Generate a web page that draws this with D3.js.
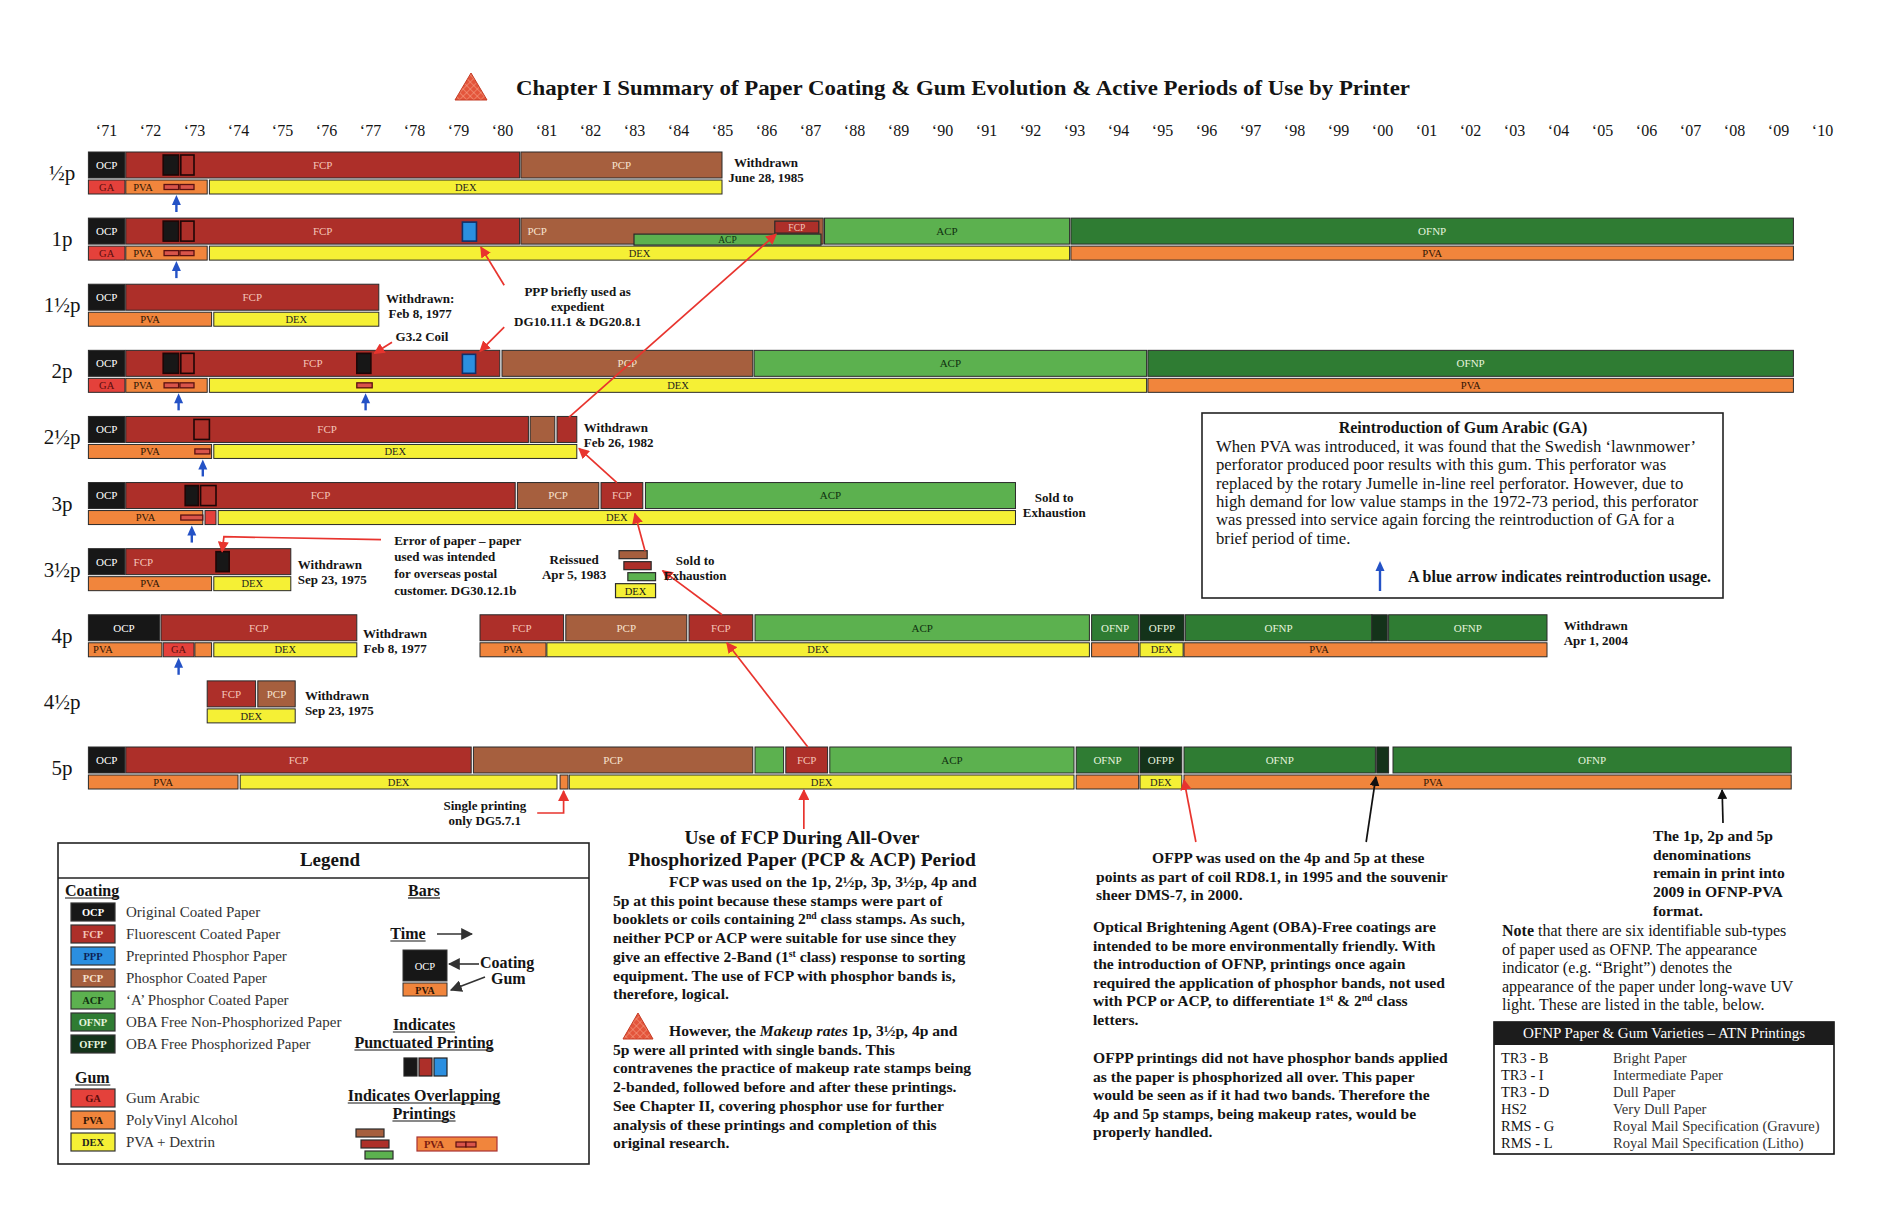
<!DOCTYPE html>
<html>
<head>
<meta charset="utf-8">
<script src="https://cdn.jsdelivr.net/npm/d3@7"></script>
<style>
body{margin:0;background:#fff}
text{font-family:"Liberation Serif","Times New Roman",serif;fill:#141414}
</style>
</head>
<body>
<script>
// years along the top
var years = [1971,1972,1973,1974,1975,1976,1977,1978,1979,1980,1981,1982,1983,1984,1985,1986,1987,1988,1989,1990,
             1991,1992,1993,1994,1995,1996,1997,1998,1999,2000,2001,2002,2003,2004,2005,2006,2007,2008,2009,2010];
var denominations = ["½p","1p","1½p","2p","2½p","3p","3½p","4p","4½p","5p"];

// coating bars: row, paper, from, to, label at (null = centre, 0 = none)
var coatings = [
  [0,"OCP",1971.1,1971.93,null],[0,"FCP",1971.95,1980.9,null],[0,"PCP",1980.93,1985.5,null],
  [1,"OCP",1971.1,1971.93,null],[1,"FCP",1971.95,1980.9,null],[1,"PCP",1980.93,1987.8,1981.3],[1,"ACP",1987.83,1993.4,null],[1,"OFNP",1993.43,2009.85,null],
  [2,"OCP",1971.1,1971.93,null],[2,"FCP",1971.95,1977.7,null],
  [3,"OCP",1971.1,1971.93,null],[3,"FCP",1971.95,1980.45,null],[3,"PCP",1980.5,1986.2,null],[3,"ACP",1986.23,1995.15,null],[3,"OFNP",1995.18,2009.85,null],
  [4,"OCP",1971.1,1971.93,null],[4,"FCP",1971.95,1981.1,null],[4,"PCP",1981.14,1981.7,0],[4,"FCP",1981.75,1982.2,0],
  [5,"OCP",1971.1,1971.93,null],[5,"FCP",1971.95,1980.8,null],[5,"PCP",1980.85,1982.7,null],[5,"FCP",1982.75,1983.7,null],[5,"ACP",1983.76,1992.17,null],
  [6,"OCP",1971.1,1971.93,null],[6,"FCP",1971.95,1975.7,1972.35],
  [7,"OCP",1971.1,1972.72,null],[7,"FCP",1972.75,1977.2,null],[7,"FCP",1980.0,1981.9,null],[7,"PCP",1981.95,1984.7,null],[7,"FCP",1984.75,1986.2,null],
  [7,"ACP",1986.25,1993.85,null],[7,"OFNP",1993.9,1994.97,null],[7,"OFPP",1995.0,1996.0,null],[7,"OFNP",1996.03,2000.27,null],[7,"OFPP",2000.27,2000.62,0],[7,"OFNP",2000.65,2004.25,null],
  [8,"FCP",1973.8,1974.9,null],[8,"PCP",1974.95,1975.8,null],
  [9,"OCP",1971.1,1971.93,null],[9,"FCP",1971.95,1979.8,null],[9,"PCP",1979.85,1986.2,null],[9,"ACP",1986.25,1986.9,0],[9,"FCP",1986.95,1987.9,null],
  [9,"ACP",1987.95,1993.5,null],[9,"OFNP",1993.55,1994.97,null],[9,"OFPP",1995.0,1995.95,null],[9,"OFNP",1996.0,2000.35,null],[9,"OFPP",2000.38,2000.65,0],[9,"OFNP",2000.75,2009.8,null]
];

// gum bars: row, gum, from, to, label at
var gums = [
  [0,"GA",1971.1,1971.93,null],[0,"PVA",1971.95,1973.8,1972.34],[0,"DEX",1973.85,1985.5,null],
  [1,"GA",1971.1,1971.93,null],[1,"PVA",1971.95,1973.8,1972.34],[1,"DEX",1973.85,1993.4,null],[1,"PVA",1993.43,2009.85,null],
  [2,"PVA",1971.1,1973.9,null],[2,"DEX",1973.95,1977.7,null],
  [3,"GA",1971.1,1971.93,null],[3,"PVA",1971.95,1973.8,1972.34],[3,"DEX",1973.85,1995.15,null],[3,"PVA",1995.18,2009.85,null],
  [4,"PVA",1971.1,1973.9,null],[4,"DEX",1973.95,1982.2,null],
  [5,"PVA",1971.1,1973.7,null],[5,"GA",1973.75,1974.0,0],[5,"DEX",1974.05,1992.17,null],
  [6,"PVA",1971.1,1973.9,null],[6,"DEX",1973.95,1975.7,null],
  [7,"PVA",1971.1,1972.77,1971.43],[7,"GA",1972.8,1973.5,null],[7,"PVA",1973.52,1973.9,0],[7,"DEX",1973.95,1977.2,null],
  [7,"PVA",1980.0,1981.5,null],[7,"DEX",1981.52,1993.85,null],[7,"PVA",1993.9,1994.97,0],[7,"DEX",1995.0,1995.98,null],[7,"PVA",1996.0,2004.25,1999.07],
  [8,"DEX",1973.8,1975.8,null],
  [9,"PVA",1971.1,1974.5,null],[9,"DEX",1974.55,1981.75,null],[9,"PVA",1981.82,1982.0,0],[9,"DEX",1982.03,1993.5,null],
  [9,"PVA",1993.55,1994.97,0],[9,"DEX",1995.0,1995.95,null],[9,"PVA",1996.0,2009.8,2001.66]
];

// punctuated printings inside coating bars: row, paper, from, to
var punctuated = [
  [0,"OCP",1972.8,1973.15],[0,"FCP",1973.2,1973.5],
  [1,"OCP",1972.8,1973.15],[1,"FCP",1973.2,1973.5],[1,"PPP",1979.6,1979.92],
  [3,"OCP",1972.8,1973.15],[3,"FCP",1973.2,1973.5],[3,"OCP",1977.2,1977.52],[3,"PPP",1979.6,1979.9],
  [4,"FCP",1973.5,1973.85],
  [5,"OCP",1973.3,1973.6],[5,"FCP",1973.65,1974.0],
  [6,"OCP",1974.0,1974.3]
];
// overlapping gum printings: row, from, to
var gumOverlaps = [
  [0,1972.82,1973.15],[0,1973.18,1973.5],[1,1972.82,1973.15],[1,1973.18,1973.5],
  [3,1972.82,1973.15],[3,1973.18,1973.5],[3,1977.2,1977.55],[4,1973.52,1973.86],[5,1973.2,1973.7]
];
// 1p PCP period insets: row, paper, from, to, part
var insets = [[1,"ACP",1983.5,1987.75,"low"],[1,"FCP",1986.7,1987.7,"high"]];
// 3½p reissue (overlapping printings): row, paper, from, to
var reissue = [[6,"PCP",1983.16,1983.8],[6,"FCP",1983.27,1983.89],[6,"ACP",1983.36,1983.99]];
var reissueGum = [[6,"DEX",1983.08,1983.99]];
// blue arrows (reintroduction of GA): row, year
var blueArrows = [[0,1973.1],[1,1973.1],[3,1973.15],[3,1977.4],[4,1973.7],[5,1973.45],[7,1973.15]];

// pointer lines: colour, points [year, row, offset below row top]
var pointers = [
  ["red",[[1980.55,2,1],[1980.02,1,29]]],
  ["red",[[1980.55,2,43],[1980.0,3,1]]],
  ["red",[[1978.0,2,58],[1977.6,3,3]]],
  ["red",[[1982.02,4,1],[1986.73,1,16]]],
  ["red",[[1983.11,5,0],[1982.25,4,32]]],
  ["red",[[1983.75,6,2],[1983.52,5,31]]],
  ["red",[[1985.5,7,0],[1984.15,6,22]]],
  ["red",[[1987.45,9,0],[1985.61,7,28]]],
  ["red",[[1987.36,9,82],[1987.36,9,43]]],
  ["red",[[1981.3,9,66],[1981.9,9,66],[1981.9,9,44]]],
  ["red",[[1977.75,6,-9],[1974.18,6,-12],[1974.14,6,3]]],
  ["red",[[1996.27,9,95],[1996.0,9,33]]],
  ["black",[[2000.14,9,95],[2000.36,9,30]]],
  ["black",[[2008.25,9,76],[2008.23,9,43]]]
];

// notes beside the bars: row, year, offset of first baseline, anchor, lines
var notes = [
  [0,1986.5,15,"middle",["Withdrawn","June 28, 1985"]],
  [2,1978.64,19,"middle",["Withdrawn:","Feb 8, 1977"]],
  [2,1978.68,57,"middle",["G3.2 Coil"]],
  [2,1982.22,12,"middle",["PPP briefly used as","expedient","DG10.11.1 & DG20.8.1"]],
  [4,1982.36,16,"start",["Withdrawn","Feb 26, 1982"]],
  [5,1993.05,19,"middle",["Sold to","Exhaustion"]],
  [6,1975.86,20,"start",["Withdrawn","Sep 23, 1975"]],
  [6,1982.14,15,"middle",["Reissued","Apr 5, 1983"]],
  [6,1984.89,16,"middle",["Sold to","Exhaustion"]],
  [6,1978.05,-4,"start",["Error of paper – paper","used was intended","for overseas postal","customer. DG30.12.1b"]],
  [7,1978.07,23,"middle",["Withdrawn","Feb 8, 1977"]],
  [7,2005.36,15,"middle",["Withdrawn","Apr 1, 2004"]],
  [8,1976.02,19,"start",["Withdrawn","Sep 23, 1975"]],
  [9,1980.11,63,"middle",["Single printing","only DG5.7.1"]]
];

var legendCoating = [["OCP","Original Coated Paper"],["FCP","Fluorescent Coated Paper"],["PPP","Preprinted Phosphor Paper"],
  ["PCP","Phosphor Coated Paper"],["ACP","‘A’ Phosphor Coated Paper"],["OFNP","OBA Free Non-Phosphorized Paper"],["OFPP","OBA Free Phosphorized Paper"]];
var legendGum = [["GA","Gum Arabic"],["PVA","PolyVinyl Alcohol"],["DEX","PVA + Dextrin"]];
var atnCodes = ["TR3 - B","TR3 - I","TR3 - D","HS2","RMS - G","RMS - L"];
var atnNames = ["Bright Paper","Intermediate Paper","Dull Paper","Very Dull Paper","Royal Mail Specification (Gravure)","Royal Mail Specification (Litho)"];

var fill = {OCP:"#171717",FCP:"#ad2f29",PPP:"#2b8fe0",PCP:"#a65f3e",ACP:"#5cb14f",OFNP:"#2f7c33",OFPP:"#14331a",GA:"#e4413b",PVA:"#f1853c",DEX:"#f5f035"};
var ink = {OCP:"#ffffff",FCP:"#f4c4b8",PPP:"#0d1f55",PCP:"#f7e2cf",ACP:"#103010",OFNP:"#e6f4de",OFPP:"#e6f4de",GA:"#5a0d0d",PVA:"#2e1404",DEX:"#1e1e1e"};
var stroke = {red:"#e8342e",black:"#111"};

var svg = d3.select("body").append("svg").attr("width",1900).attr("height",1230);
var defs = svg.append("defs");

var x = d3.scaleLinear().domain([1971,2011]).range([84,1844]);
var rowY = d3.scaleLinear().domain([0,9]).range([152,747]);
var COAT_H = 26, GUM_OFF = 28, GUM_H = 14;

function marker(id, colour, size){
  defs.append("marker").attr("id",id).attr("viewBox","0 0 10 10").attr("refX",9).attr("refY",5)
    .attr("markerWidth",size).attr("markerHeight",size).attr("markerUnits","userSpaceOnUse").attr("orient","auto")
    .append("path").attr("d","M0,0L10,5L0,10z").attr("fill",colour);
}
marker("head-red",stroke.red,11);
marker("head-black",stroke.black,10);
marker("head-grey","#333",12);

var pat = defs.append("pattern").attr("id","hatch").attr("width",5).attr("height",5)
  .attr("patternUnits","userSpaceOnUse").attr("patternTransform","rotate(45)");
pat.append("rect").attr("width",5).attr("height",5).attr("fill","#e4553b");
pat.append("path").attr("d","M0,0H5M0,0V5").attr("stroke","#f6a68c").attr("stroke-width",1);

function triangle(x0,y0,w,h){
  svg.append("path").attr("d","M"+x0+","+(y0+h)+"L"+(x0+w/2)+","+y0+"L"+(x0+w)+","+(y0+h)+"Z")
    .attr("fill","url(#hatch)").attr("stroke","#c43b24").attr("stroke-width",1);
}

// title
triangle(455,73,32,27);
svg.append("text").attr("x",516).attr("y",95).attr("font-size",22).attr("font-weight","bold")
  .attr("textLength",894).attr("lengthAdjust","spacingAndGlyphs")
  .text("Chapter I Summary of Paper Coating & Gum Evolution & Active Periods of Use by Printer");

// year axis
var axis = svg.append("g").attr("transform","translate(0,136)")
  .call(d3.axisTop(x).tickValues(years.map(function(d){return d+0.5;})).tickSize(0).tickPadding(0)
    .tickFormat(function(d){return "‘"+String(Math.floor(d)).slice(2);}));
axis.select(".domain").remove();
axis.selectAll("text").attr("font-size",16).attr("font-family",null).attr("fill","#141414");

// denomination labels
svg.selectAll(".denom").data(denominations).join("text").attr("class","denom")
  .attr("x",62).attr("y",function(d,i){return rowY(i)+28;}).attr("text-anchor","middle")
  .attr("font-size",21).text(function(d){return d;});

function drawBars(cls, data, offset, h, fs){
  var g = svg.append("g").attr("class",cls);
  g.selectAll("rect").data(data).join("rect")
    .attr("x",function(d){return x(d[2]);}).attr("width",function(d){return x(d[3])-x(d[2]);})
    .attr("y",function(d){return rowY(d[0])+offset;}).attr("height",h)
    .attr("fill",function(d){return fill[d[1]];}).attr("stroke","#2a2a2a").attr("stroke-width",1);
  g.selectAll("text").data(data.filter(function(d){return d[4]!==0;})).join("text")
    .attr("x",function(d){return d[4]==null ? (x(d[2])+x(d[3]))/2 : x(d[4]);})
    .attr("y",function(d){return rowY(d[0])+offset+h/2+fs*0.35;})
    .attr("text-anchor","middle").attr("font-size",fs)
    .style("fill",function(d){return ink[d[1]];}).text(function(d){return d[1];});
  return g;
}
drawBars("coat",coatings,0,COAT_H,11);
drawBars("gum",gums,GUM_OFF,GUM_H,10.5);

// punctuated printings
svg.append("g").selectAll("rect").data(punctuated).join("rect")
  .attr("x",function(d){return x(d[2]);}).attr("width",function(d){return x(d[3])-x(d[2]);})
  .attr("y",function(d){return rowY(d[0])+(d[1]=="PPP"?4:3);}).attr("height",function(d){return d[1]=="PPP"?19:20;})
  .attr("fill",function(d){return fill[d[1]];})
  .attr("stroke",function(d){return d[1]=="PPP"?"#10306a":"#1e0606";}).attr("stroke-width",1.6);

// overlapping gum printings
svg.append("g").selectAll("rect").data(gumOverlaps).join("rect")
  .attr("x",function(d){return x(d[1]);}).attr("width",function(d){return x(d[2])-x(d[1]);})
  .attr("y",function(d){return rowY(d[0])+GUM_OFF+4.5;}).attr("height",5)
  .attr("fill","#d9544a").attr("stroke","#5a1010").attr("stroke-width",1.3);

// 1p insets within PCP
var ins = svg.append("g");
ins.selectAll("rect").data(insets).join("rect")
  .attr("x",function(d){return x(d[2]);}).attr("width",function(d){return x(d[3])-x(d[2]);})
  .attr("y",function(d){return rowY(d[0])+(d[4]=="low"?16:3);}).attr("height",function(d){return d[4]=="low"?11:12;})
  .attr("fill",function(d){return fill[d[1]];}).attr("stroke","#2a2a2a").attr("stroke-width",1.2);
ins.selectAll("text").data(insets).join("text")
  .attr("x",function(d){return (x(d[2])+x(d[3]))/2;}).attr("y",function(d){return rowY(d[0])+(d[4]=="low"?25:12.5);})
  .attr("text-anchor","middle").attr("font-size",9.5).style("fill",function(d){return ink[d[1]];})
  .text(function(d){return d[1];});

// 3½p reissue
svg.append("g").selectAll("rect").data(reissue).join("rect")
  .attr("x",function(d){return x(d[2]);}).attr("width",function(d){return x(d[3])-x(d[2]);})
  .attr("y",function(d,i){return rowY(d[0])+2+i*11;}).attr("height",8)
  .attr("fill",function(d){return fill[d[1]];}).attr("stroke","#2a2a2a").attr("stroke-width",1.2);
var rg = svg.append("g");
rg.selectAll("rect").data(reissueGum).join("rect")
  .attr("x",function(d){return x(d[2]);}).attr("width",function(d){return x(d[3])-x(d[2]);})
  .attr("y",function(d){return rowY(d[0])+35;}).attr("height",14)
  .attr("fill",function(d){return fill[d[1]];}).attr("stroke","#2a2a2a").attr("stroke-width",1.2);
rg.selectAll("text").data(reissueGum).join("text")
  .attr("x",function(d){return (x(d[2])+x(d[3]))/2;}).attr("y",function(d){return rowY(d[0])+46;})
  .attr("text-anchor","middle").attr("font-size",10.5).text(function(d){return d[1];});

// blue arrows
function blueArrow(g, cx, tip, tail){
  g.append("line").attr("x1",cx).attr("x2",cx).attr("y1",tail).attr("y2",tip+7)
    .attr("stroke","#2452c6").attr("stroke-width",2.4);
  g.append("path").attr("d","M"+(cx-4.5)+","+(tip+10)+"L"+cx+","+tip+"L"+(cx+4.5)+","+(tip+10)+"Z").attr("fill","#2452c6");
}
var ba = svg.append("g");
blueArrows.forEach(function(d){ blueArrow(ba, x(d[1]), rowY(d[0])+43, rowY(d[0])+60); });

// pointer lines
var line = d3.line().x(function(p){return x(p[0]);}).y(function(p){return rowY(p[1])+p[2];});
svg.append("g").selectAll("path").data(pointers).join("path")
  .attr("d",function(d){return line(d[1]);}).attr("fill","none")
  .attr("stroke",function(d){return stroke[d[0]];}).attr("stroke-width",1.7)
  .attr("marker-end",function(d){return "url(#head-"+d[0]+")";});

// notes
notes.forEach(function(n){
  var t = svg.append("text").attr("text-anchor",n[3]).attr("font-size",13).attr("font-weight","bold");
  n[4].forEach(function(s,i){
    t.append("tspan").attr("x",x(n[1])).attr("y",rowY(n[0])+n[2]+i*(n[4].length>3?16.7:15)).text(s);
  });
});

// paragraph helper: lines are strings or arrays of [text, style]
function para(x0, y0, lh, lines, size, weight, firstIndent){
  var t = svg.append("text").attr("font-size",size).attr("font-weight",weight||"normal");
  lines.forEach(function(l,i){
    var parts = typeof l == "string" ? [[l,""]] : l;
    var xx = (firstIndent && firstIndent[i]!=null) ? firstIndent[i] : x0;
    parts.forEach(function(p,j){
      var ts = t.append("tspan").text(p[0]);
      if(j==0) ts.attr("x",xx).attr("y",y0+i*lh);
      if(p[1]=="sup") ts.attr("font-size",size*0.62).attr("baseline-shift","super");
      if(p[1]=="it") ts.attr("font-style","italic");
      if(p[1]=="b") ts.attr("font-weight","bold");
    });
  });
  return t;
}

// gum arabic box
svg.append("rect").attr("x",1202).attr("y",413).attr("width",521).attr("height",185)
  .attr("fill","#fff").attr("stroke","#222").attr("stroke-width",1.6);
svg.append("text").attr("x",1463).attr("y",433).attr("text-anchor","middle").attr("font-size",16)
  .attr("font-weight","bold").text("Reintroduction of Gum Arabic (GA)");
para(1216,452,18.3,[
  "When PVA was introduced, it was found that the Swedish ‘lawnmower’",
  "perforator produced poor results with this gum. This perforator was",
  "replaced by the rotary Jumelle in-line reel perforator. However, due to",
  "high demand for low value stamps in the 1972-73 period, this perforator",
  "was pressed into service again forcing the reintroduction of GA for a",
  "brief period of time."],16.7);
blueArrow(svg, 1380, 561, 591);
svg.append("text").attr("x",1711).attr("y",582).attr("text-anchor","end").attr("font-size",16)
  .attr("font-weight","bold").text("A blue arrow indicates reintroduction usage.");

// FCP text
svg.append("text").attr("x",802).attr("y",844).attr("text-anchor","middle").attr("font-size",19.5)
  .attr("font-weight","bold").text("Use of FCP During All-Over");
svg.append("text").attr("x",802).attr("y",866).attr("text-anchor","middle").attr("font-size",19.5)
  .attr("font-weight","bold").text("Phosphorized Paper (PCP & ACP) Period");
para(613,887,18.7,[
  "FCP was used on the 1p, 2½p, 3p, 3½p, 4p and",
  "5p at this point because these stamps were part of",
  [["booklets or coils containing 2",""],["nd","sup"],[" class stamps. As such,",""]],
  "neither PCP or ACP were suitable for use since they",
  [["give an effective 2-Band (1",""],["st","sup"],[" class) response to sorting",""]],
  "equipment. The use of FCP with phosphor bands is,",
  "therefore, logical."],15.6,"bold",[669]);
triangle(623,1013,30,26);
para(613,1036,18.7,[
  [["However, the ",""],["Makeup rates","it"],[" 1p, 3½p, 4p and",""]],
  "5p were all printed with single bands. This",
  "contravenes the practice of makeup rate stamps being",
  "2-banded, followed before and after these printings.",
  "See Chapter II, covering phosphor use for further",
  "analysis of these printings and completion of this",
  "original research."],15.6,"bold",[669]);

// OFPP / OBA text
para(1096,863,18.7,[
  "OFPP was used on the 4p and 5p at these",
  "points as part of coil RD8.1, in 1995 and the souvenir",
  "sheer DMS-7, in 2000."],15.6,"bold",[1152]);
para(1093,932,18.6,[
  "Optical Brightening Agent (OBA)-Free coatings are",
  "intended to be more environmentally friendly. With",
  "the introduction of OFNP, printings once again",
  "required the application of phosphor bands, not used",
  [["with PCP or ACP, to differentiate 1",""],["st","sup"],[" & 2",""],["nd","sup"],[" class",""]],
  "letters."],15.6,"bold");
para(1093,1063,18.6,[
  "OFPP printings did not have phosphor bands applied",
  "as the paper is phosphorized all over. This paper",
  "would be seen as if it had two bands. Therefore the",
  "4p and 5p stamps, being makeup rates, would be",
  "properly handled."],15.6,"bold");
para(1653,841,18.7,["The 1p, 2p and 5p","denominations","remain in print into","2009 in OFNP-PVA","format."],15.6,"bold");
para(1502,936,18.5,[
  [["Note","b"],[" that there are six identifiable sub-types",""]],
  "of paper used as OFNP. The appearance",
  "indicator (e.g. “Bright”) denotes the",
  "appearance of the paper under long-wave UV",
  "light. These are listed in the table, below."],16);

// ATN table
svg.append("rect").attr("x",1494).attr("y",1022).attr("width",340).attr("height",132)
  .attr("fill","#fff").attr("stroke","#111").attr("stroke-width",1.6);
svg.append("rect").attr("x",1494).attr("y",1022).attr("width",340).attr("height",23).attr("fill","#1c1c1c");
svg.append("text").attr("x",1664).attr("y",1038).attr("text-anchor","middle").attr("font-size",15)
  .style("fill","#fff").text("OFNP Paper & Gum Varieties – ATN Printings");
svg.selectAll(".atnc").data(atnCodes).join("text").attr("class","atnc")
  .attr("x",1501).attr("y",function(d,i){return 1063+i*17;}).attr("font-size",14.5).text(function(d){return d;});
svg.selectAll(".atnn").data(atnNames).join("text").attr("class","atnn")
  .attr("x",1613).attr("y",function(d,i){return 1063+i*17;}).attr("font-size",14.5).style("fill","#333").text(function(d){return d;});

// legend
function uText(xx, yy, s, size, anchor){
  var t = svg.append("text").attr("x",xx).attr("y",yy).attr("font-size",size).attr("font-weight","bold")
    .attr("text-anchor",anchor||"start").text(s);
  var b = t.node().getBBox();
  svg.append("line").attr("x1",b.x).attr("x2",b.x+b.width).attr("y1",yy+2).attr("y2",yy+2)
    .attr("stroke","#141414").attr("stroke-width",1.2);
  return t;
}
svg.append("rect").attr("x",58).attr("y",843).attr("width",531).attr("height",321)
  .attr("fill","#fff").attr("stroke","#222").attr("stroke-width",1.6);
svg.append("line").attr("x1",58).attr("x2",589).attr("y1",878).attr("y2",878).attr("stroke","#222").attr("stroke-width",1.4);
svg.append("text").attr("x",330).attr("y",866).attr("text-anchor","middle").attr("font-size",19).attr("font-weight","bold").text("Legend");
uText(65,896,"Coating",16);
uText(75,1083,"Gum",16);

function swatches(data, y0){
  var g = svg.append("g");
  g.selectAll("rect").data(data).join("rect")
    .attr("x",71).attr("width",44).attr("y",function(d,i){return y0+i*22-9;}).attr("height",18)
    .attr("fill",function(d){return fill[d[0]];}).attr("stroke","#333").attr("stroke-width",1.2);
  g.selectAll(".code").data(data).join("text").attr("class","code")
    .attr("x",93).attr("y",function(d,i){return y0+i*22+4;}).attr("text-anchor","middle").attr("font-size",10.5)
    .attr("font-weight","bold").style("fill",function(d){return ink[d[0]];}).text(function(d){return d[0];});
  g.selectAll(".name").data(data).join("text").attr("class","name")
    .attr("x",126).attr("y",function(d,i){return y0+i*22+5;}).attr("font-size",15).style("fill","#333")
    .text(function(d){return d[1];});
}
swatches(legendCoating,912);
swatches(legendGum,1098);

uText(424,896,"Bars",16,"middle");
uText(408,939,"Time",16,"middle");
svg.append("line").attr("x1",437).attr("x2",472).attr("y1",934).attr("y2",934).attr("stroke","#333").attr("stroke-width",1.6).attr("marker-end","url(#head-grey)");
svg.append("rect").attr("x",403).attr("y",950).attr("width",44).attr("height",31).attr("fill",fill.OCP).attr("stroke","#333");
svg.append("text").attr("x",425).attr("y",970).attr("text-anchor","middle").attr("font-size",10.5).style("fill","#fff").text("OCP");
svg.append("rect").attr("x",403).attr("y",983).attr("width",44).attr("height",13).attr("fill",fill.PVA).attr("stroke","#333");
svg.append("text").attr("x",425).attr("y",993.5).attr("text-anchor","middle").attr("font-size",10).attr("font-weight","bold").style("fill",ink.PVA).text("PVA");
svg.append("text").attr("x",480).attr("y",968).attr("font-size",16).attr("font-weight","bold").text("Coating");
svg.append("text").attr("x",491).attr("y",984).attr("font-size",16).attr("font-weight","bold").text("Gum");
svg.append("line").attr("x1",479).attr("x2",449).attr("y1",964).attr("y2",964).attr("stroke","#333").attr("stroke-width",1.6).attr("marker-end","url(#head-grey)");
svg.append("line").attr("x1",485).attr("x2",451).attr("y1",977).attr("y2",990).attr("stroke","#333").attr("stroke-width",1.6).attr("marker-end","url(#head-grey)");
uText(424,1030,"Indicates",16,"middle");
uText(424,1048,"Punctuated Printing",16,"middle");
svg.append("g").selectAll("rect").data(["OCP","FCP","PPP"]).join("rect")
  .attr("x",function(d,i){return 404+i*15;}).attr("y",1058).attr("width",13).attr("height",18)
  .attr("fill",function(d){return fill[d];}).attr("stroke","#222").attr("stroke-width",1.2);
uText(424,1101,"Indicates Overlapping",16,"middle");
uText(424,1119,"Printings",16,"middle");
svg.append("g").selectAll("rect").data(["PCP","FCP","ACP"]).join("rect")
  .attr("x",function(d,i){return 356+[0,5,9][i];}).attr("y",function(d,i){return 1129+i*11;})
  .attr("width",28).attr("height",8).attr("fill",function(d){return fill[d];}).attr("stroke","#2a2a2a").attr("stroke-width",1.2);
svg.append("rect").attr("x",417).attr("y",1137).attr("width",80).attr("height",14).attr("fill",fill.PVA).attr("stroke","#a33").attr("stroke-width",1.2);
svg.append("text").attr("x",434).attr("y",1148).attr("text-anchor","middle").attr("font-size",10.5).attr("font-weight","bold").style("fill","#7a1a10").text("PVA");
svg.append("g").selectAll("rect").data([0,1]).join("rect")
  .attr("x",function(d){return 456+d*10;}).attr("y",1142).attr("width",10).attr("height",5)
  .attr("fill","#d9544a").attr("stroke","#5a1010").attr("stroke-width",1.2);
</script>
</body>
</html>
